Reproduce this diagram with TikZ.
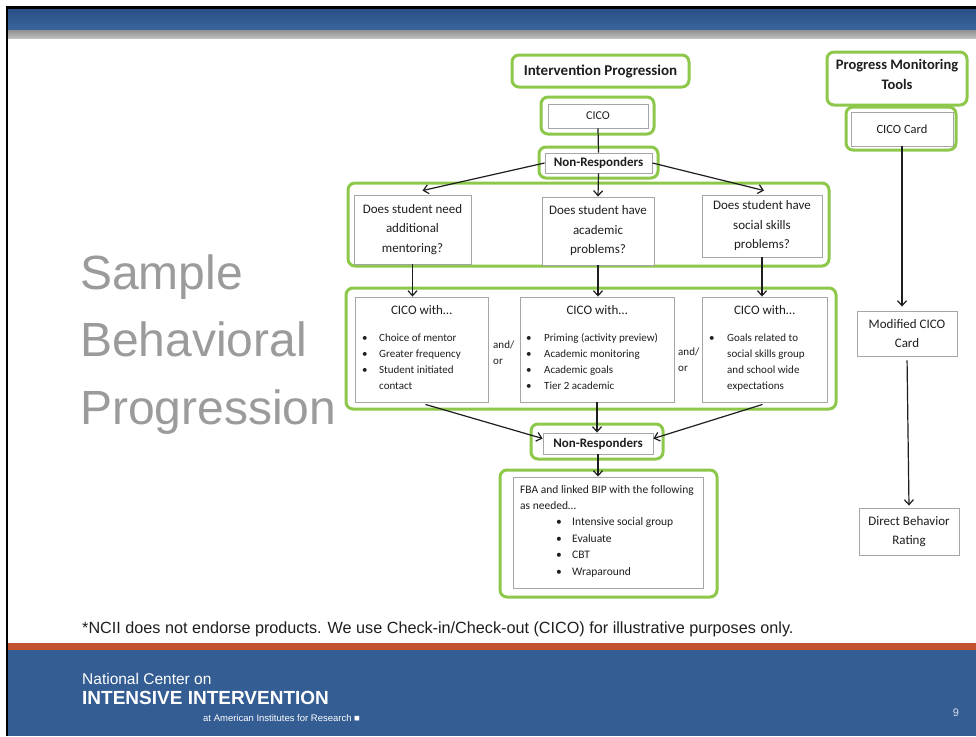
\documentclass[tikz,border=0pt]{standalone}
\usepackage{fontspec}
\setmainfont{Carlito}
\newfontfamily\arialf{Liberation Sans}
\usetikzlibrary{arrows.meta,calc}

\definecolor{slideblue}{RGB}{52,93,148}
\definecolor{bartop}{RGB}{43,79,135}
\definecolor{barbot}{RGB}{58,102,156}
\definecolor{bandgray}{RGB}{168,168,168}
\definecolor{bandorange}{RGB}{196,81,45}
\definecolor{framegreen}{RGB}{141,200,74}
\definecolor{boxgray}{RGB}{166,166,166}
\definecolor{ink}{RGB}{30,30,30}
\definecolor{titlegray}{RGB}{155,155,155}

\tikzset{
  greenframe/.style={draw=framegreen, line width=3pt, rounded corners=7pt, fill=white, inner sep=0pt},
  graybox/.style={draw=boxgray, line width=0.9pt, fill=white, inner sep=0pt, text=ink},
  flow/.style={draw=ink, line width=1.2pt, -{Straight Barb[length=5pt,width=9pt]}},
  link/.style={draw=ink, line width=1.2pt},
  qfont/.style={font=\fontsize{13}{19.5}\selectfont, align=center},
  headfont/.style={font=\fontsize{13}{16}\selectfont, text=ink},
  listfont/.style={font=\fontsize{11}{16}\selectfont, text=ink, inner sep=0pt},
  boldfont/.style={font=\bfseries\fontsize{13}{16}\selectfont},
  titletext/.style={font=\arialf\fontsize{48}{48}\selectfont, text=titlegray, inner sep=0pt},
}

% box from its corner coordinates: style, name, x1, y1, x2, y2, text
\newcommand\pxbox[7]{%
  \pgfmathsetmacro\pxW{#5-#3}\pgfmathsetmacro\pxH{#6-#4}%
  \pgfmathsetmacro\pxX{(#3+#5)/2}\pgfmathsetmacro\pxY{(#4+#6)/2}%
  \node[#1, minimum width=\pxW pt, minimum height=\pxH pt] (#2) at (\pxX,\pxY) {#7};}

\begin{document}
\begin{tikzpicture}[x=1pt,y=-1pt]
\useasboundingbox (0,0) rectangle (976,736);

% page, frame and slide bands
\fill[white] (0,0) rectangle (976,736);
\fill[black] (5.5,6) rectangle (976,736);
\fill[white] (8,9) rectangle (976,736);
\shade[top color=bartop, bottom color=barbot] (8,9) rectangle (976,30);
\shade[top color=bandgray!85!black, bottom color=bandgray!75] (8,30) rectangle (976,38);
\fill[bandorange] (8,643) rectangle (976,650);
\fill[slideblue] (8,650) rectangle (976,736);

% slide title
\node[titletext, anchor=base west] (title1) at (80,289) {Sample};
\node[titletext, anchor=base west] (title2) at (80,356) {Behavioral};
\node[titletext, anchor=base west] (title3) at (80,424) {Progression};

% green frames
\pxbox{greenframe, font=\bfseries\fontsize{15}{18}\selectfont, text=ink}{gIP}{512}{55}{689}{87}{Intervention Progression}
\pxbox{greenframe}{gCICO}{541}{97}{654}{134}{}
\pxbox{greenframe}{gNR1}{539}{147}{658}{178}{}
\pxbox{greenframe}{gQ}{348}{183}{829}{266}{}
\pxbox{greenframe}{gC}{346}{288}{836}{409}{}
\pxbox{greenframe}{gNR2}{531}{424}{663}{459}{}
\pxbox{greenframe}{gFBA}{500}{470}{717}{597}{}
\pxbox{greenframe}{gPMT}{827}{52}{967}{105}{}
\pxbox{greenframe}{gCard}{846}{107}{956}{150}{}

\node[font=\bfseries\fontsize{14.5}{20}\selectfont, text=ink, align=center] (pmt) at (897,74) {Progress Monitoring\\Tools};

% inner boxes
\pxbox{graybox, font=\fontsize{12}{14}\selectfont}{bCICO}{548}{104}{648}{128}{CICO}
\pxbox{graybox, boldfont}{bNR1}{545}{153}{652}{173}{Non-Responders}
\pxbox{graybox, qfont}{bQ1}{354}{195}{471}{264}{Does student need\\additional\\mentoring?}
\pxbox{graybox, qfont}{bQ2}{542}{197}{654}{265}{Does student have\\academic\\problems?}
\pxbox{graybox, qfont}{bQ3}{702}{195}{822}{257}{Does student have\\social skills\\problems?}
\pxbox{graybox}{bC1}{355}{297}{488}{402}{}
\pxbox{graybox}{bC2}{520}{297}{674}{402}{}
\pxbox{graybox}{bC3}{702}{297}{827}{402}{}
\pxbox{graybox, boldfont}{bNR2}{543}{433}{653}{454}{Non-Responders}
\pxbox{graybox}{bFBA}{513}{477}{703}{588}{}
\pxbox{graybox, font=\fontsize{12.5}{15}\selectfont}{bCard}{851}{112}{953}{146}{CICO Card}
\pxbox{graybox, qfont}{bMod}{857}{311}{957}{356}{Modified CICO\\Card}
\pxbox{graybox, qfont}{bDBR}{859}{508}{959}{555}{Direct Behavior\\Rating}

% option boxes: headings and lists
\node[headfont] (hC1) at (421.5,310) {CICO with…};
\node[headfont] (hC2) at (597,310) {CICO with…};
\node[headfont] (hC3) at (764.5,310) {CICO with…};

\node[listfont, anchor=base west] (lC1) at (362,341) {\begin{tabular}[t]{@{}l@{}}
\makebox[17pt][l]{\textbullet}Choice of mentor\\
\makebox[17pt][l]{\textbullet}Greater frequency\\
\makebox[17pt][l]{\textbullet}Student initiated\\
\hspace*{17pt}contact\end{tabular}};

\node[listfont, anchor=base west] (lC2) at (526,341) {\begin{tabular}[t]{@{}l@{}}
\makebox[18pt][l]{\textbullet}Priming (activity preview)\\
\makebox[18pt][l]{\textbullet}Academic monitoring\\
\makebox[18pt][l]{\textbullet}Academic goals\\
\makebox[18pt][l]{\textbullet}Tier 2 academic\end{tabular}};

\node[listfont, anchor=base west] (lC3) at (709,341) {\begin{tabular}[t]{@{}l@{}}
\makebox[18pt][l]{\textbullet}Goals related to\\
\hspace*{18pt}social skills group\\
\hspace*{18pt}and school wide\\
\hspace*{18pt}expectations\end{tabular}};

\node[listfont, anchor=base west] (andor1) at (493,348) {\begin{tabular}[t]{@{}l@{}}and/\\or\end{tabular}};
\node[listfont, anchor=base west] (andor2) at (678,355) {\begin{tabular}[t]{@{}l@{}}and/\\or\end{tabular}};

\node[font=\fontsize{11.5}{16.4}\selectfont, text=ink, inner sep=0pt, anchor=base west] (lFBA) at (520,493) {\begin{tabular}[t]{@{}l@{}}
FBA and linked BIP with the following\\
as needed…\\
\hspace*{36pt}\makebox[16pt][l]{\textbullet}Intensive social group\\
\hspace*{36pt}\makebox[16pt][l]{\textbullet}Evaluate\\
\hspace*{36pt}\makebox[16pt][l]{\textbullet}CBT\\
\hspace*{36pt}\makebox[16pt][l]{\textbullet}Wraparound\end{tabular}};

% connectors
\draw[link] (bCICO.south) -- (bNR1.north);
\draw[flow] (bNR1.west) -- ([xshift=10pt,yshift=4pt]bQ1.north);
\draw[flow] (bNR1.south) -- (bQ2.north);
\draw[flow] (bNR1.east) -- ([xshift=2pt,yshift=4pt]bQ3.north);
\draw[flow] (bQ1.south) -- (bQ1.south |- bC1.north);
\draw[flow] (bQ2.south) -- (bQ2.south |- bC2.north);
\draw[flow] (bQ3.south) -- (bQ3.south |- bC3.north);
\draw[flow] ([xshift=4pt,yshift=-2pt]bC1.south) -- ([yshift=5pt]bNR2.west);
\draw[flow] (bC2.south) -- (bC2.south |- bNR2.north);
\draw[flow] ([xshift=-2pt,yshift=-2pt]bC3.south) -- ([yshift=5pt]bNR2.east);
\draw[flow] (bNR2.south) -- (bNR2.south |- bFBA.north);
\draw[flow, shorten >=4pt] (bCard.south) -- (bCard.south |- bMod.north);
\draw[flow, shorten <=4pt, shorten >=2pt] (bMod.south) -- (bDBR.north);

% footer
\node[anchor=base west, inner sep=0pt, font=\arialf\fontsize{16.2}{18}\selectfont, text=ink] (note) at (82,633) {*NCII does not endorse products. We use Check-in/Check-out (CICO) for illustrative purposes only.};
\node[anchor=base west, inner sep=0pt, font=\arialf\fontsize{15.5}{18}\selectfont, text=white] (org1) at (82,684) {National Center on};
\node[anchor=base west, inner sep=0pt, font=\arialf\bfseries\fontsize{19}{22}\selectfont, text=white] (org2) at (82,704) {INTENSIVE INTERVENTION};
\node[anchor=base west, inner sep=0pt, font=\arialf\fontsize{9.5}{11}\selectfont, text=white] (org3) at (203,721) {at American Institutes for Research ■};
\node[anchor=base, inner sep=0pt, font=\arialf\fontsize{11}{13}\selectfont, text=white!80!slideblue] (pagenum) at (956,716) {9};
\end{tikzpicture}
\end{document}
